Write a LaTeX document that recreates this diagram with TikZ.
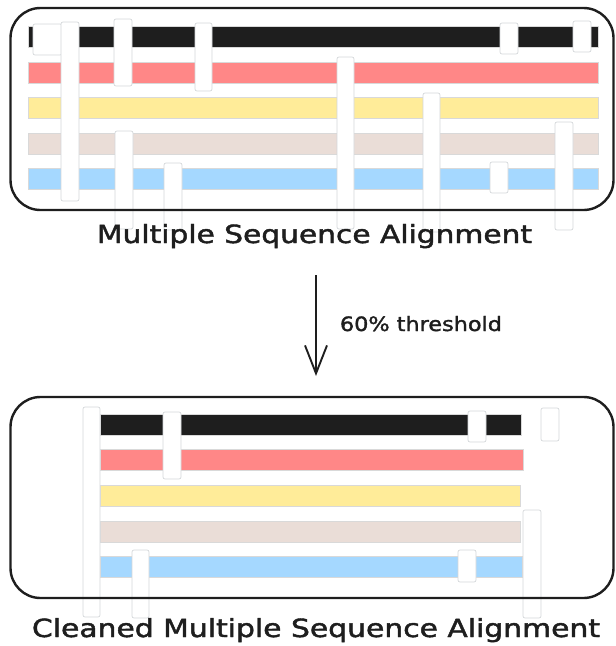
\documentclass[tikz,border=0pt]{standalone}
\usepackage{fontspec}
\setmainfont{DejaVu Sans}[FakeBold=1.6]
\usetikzlibrary{arrows.meta}
\definecolor{sblack}{HTML}{1E1E1E}
\definecolor{sred}{HTML}{FF8787}
\definecolor{syellow}{HTML}{FFEC99}
\definecolor{sbeige}{HTML}{EADDD7}
\definecolor{sblue}{HTML}{A5D8FF}
\definecolor{gapline}{HTML}{D4D7DA}
\tikzset{
  seqbar/.style={draw=black!15, line width=0.5pt},
  gapbox/.style={fill=white, draw=gapline, line width=0.7pt, rounded corners=2pt},
  frame/.style={draw=sblack, line width=2.4pt, rounded corners=30pt},
  lbl/.style={inner sep=0pt, anchor=base, text=sblack},
  arr/.style={draw=sblack, line width=1.9pt, -{Straight Barb[length=28pt,width=22pt,line width=1.9pt]}}
}
\newcommand\seqrow[4]{\path[seqbar,fill=#1] (#2,#3) rectangle (#4,{#3+21});}
\newcommand\gap[4]{\path[gapbox] (#1,#2) rectangle (#3,#4);}
\begin{document}
\begin{tikzpicture}[x=1pt,y=-1pt]
\useasboundingbox (0,0) rectangle (616,646);
% ---------- top alignment ----------
\seqrow{sblack}{28}{26}{598}
\seqrow{sred}{28}{62}{598}
\seqrow{syellow}{28}{97}{598}
\seqrow{sbeige}{28}{133}{598}
\seqrow{sblue}{28}{168}{598}
\gap{33}{24}{62}{55}
\gap{61}{22}{79}{201}
\gap{114}{19}{132}{86}
\gap{195}{23}{212}{91}
\gap{115}{131}{133}{229}
\gap{164}{163}{182}{230}
\gap{337}{57}{354}{229}
\gap{423}{93}{440}{232}
\gap{500}{23}{518}{54}
\gap{573}{21}{591}{52}
\gap{490}{162}{508}{193}
\gap{555}{122}{573}{230}
\node[frame, minimum width=603pt, minimum height=202pt, inner sep=0pt] (msa) at (312,109) {};
\node[lbl] (msalabel) at (314.5,243) {\resizebox{435pt}{19pt}{Multiple Sequence Alignment}};
% ---------- arrow ----------
\coordinate (a1) at (316,275);
\coordinate (a2) at (316,376);
\draw[arr] (a1) -- (a2);
\node[lbl] (thr) at (421,331) {\resizebox{162pt}{15pt}{60\% threshold}};
% ---------- bottom alignment ----------
\seqrow{sblack}{100}{414}{521}
\seqrow{sred}{100}{449}{523}
\seqrow{syellow}{100}{485}{520}
\seqrow{sbeige}{100}{521}{520}
\seqrow{sblue}{100}{556}{522}
\gap{83}{407}{100}{617}
\gap{163}{412}{181}{479}
\gap{132}{550}{149}{618}
\gap{468}{411}{486}{442}
\gap{541}{408}{559}{441}
\gap{523}{510}{541}{618}
\gap{458}{550}{476}{582}
\node[frame, minimum width=603pt, minimum height=201pt, inner sep=0pt] (cmsa) at (312,497.5) {};
\node[lbl] (cmsalabel) at (316,637) {\resizebox{568pt}{19pt}{Cleaned Multiple Sequence Alignment}};
\end{tikzpicture}
\end{document}
